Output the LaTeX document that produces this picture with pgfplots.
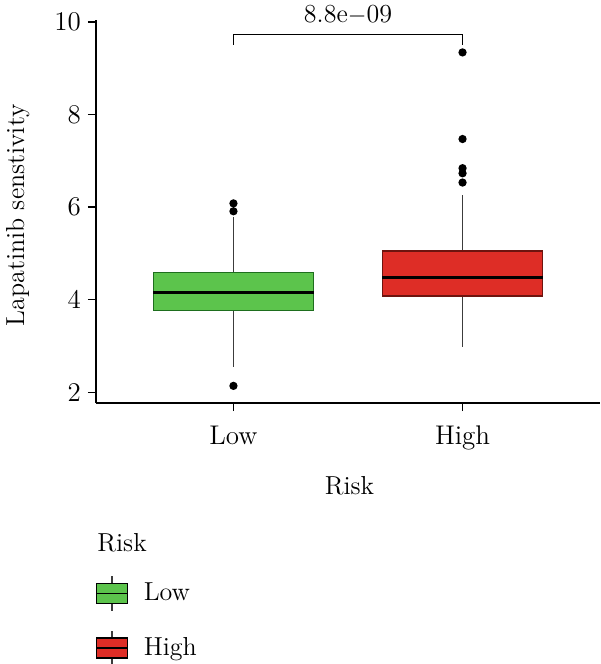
\documentclass[border=0pt]{standalone}
\usepackage{pgfplots}
\pgfplotsset{compat=1.18}
\usepgfplotslibrary{statistics}
\definecolor{lowfill}{RGB}{92,196,76}
\definecolor{lowdraw}{RGB}{30,110,30}
\definecolor{highfill}{RGB}{222,45,38}
\definecolor{highdraw}{RGB}{110,20,15}
\definecolor{whisk}{RGB}{60,60,60}
\begin{document}
\begin{tikzpicture}
\path[use as bounding box] (-48pt,-130.5pt) rectangle (252pt,201.5pt);
\begin{axis}[
  at={(0pt,0pt)}, anchor=south west, scale only axis,
  width=252pt, height=191.5pt,
  xmin=0.4, xmax=2.6, ymin=1.77, ymax=10.04,
  axis lines=left, axis line style={-, line width=0.9pt},
  tick align=outside, major tick length=4pt,
  tick style={black, line width=0.7pt},
  xtick={1,2}, xticklabels={Low,High},
  ytick={2,4,6,8,10},
  /pgf/number format/assume math mode=true,
  ticklabel style={font=\fontsize{13.5}{15}\selectfont},
  xticklabel style={yshift=-4pt},
  ylabel={Lapatinib senstivity},
  ylabel style={at={(axis description cs:-0.155,0.49)}, anchor=center, font=\fontsize{13}{15}\selectfont},
  xlabel={Risk},
  xlabel style={at={(axis description cs:0.503,-0.217)}, anchor=center, font=\fontsize{13}{15}\selectfont},
  clip=false,
  boxplot/draw direction=y,
  boxplot/every median/.style={line width=1.6pt, black},
  boxplot/every whisker/.style={draw=whisk, line width=0.9pt},
  legend style={at={(axis description cs:0.0,-0.449)}, anchor=north west, draw=none, fill=none,
    inner sep=0pt, outer sep=0pt, row sep=9pt, font=\fontsize{13}{15}\selectfont,
    nodes={inner sep=0pt}},
  legend cell align=left,
]
\addlegendimage{legend image code/.code={
  \path[draw=none, fill=none] (0pt,0pt) -- (23.5pt,0pt);
  \draw[whisk, line width=0.9pt] (7.75pt,-8.75pt) -- (7.75pt,8.75pt);
  \draw[fill=lowfill, draw=black, line width=0.7pt] (0pt,-5pt) rectangle (15.5pt,5pt);
  \draw[black, line width=0.8pt] (0pt,0pt) -- (15.5pt,0pt);}}
\addlegendentry{Low}
\addlegendimage{legend image code/.code={
  \path[draw=none, fill=none] (0pt,0pt) -- (23.5pt,0pt);
  \draw[whisk, line width=0.9pt] (7.75pt,-8.75pt) -- (7.75pt,8.75pt);
  \draw[fill=highfill, draw=black, line width=0.7pt] (0pt,-5pt) rectangle (15.5pt,5pt);
  \draw[black, line width=0.8pt] (0pt,0pt) -- (15.5pt,0pt);}}
\addlegendentry{High}

\addplot[forget plot, solid, fill=lowfill, draw=lowdraw, line width=0.6pt,
  mark=*, mark size=1.75pt, mark options={fill=black, draw=black},
  boxplot prepared={draw direction=y, draw position=1, lower whisker=2.55, lower quartile=3.76,
    median=4.16, upper quartile=4.59, upper whisker=5.79, box extend=0.7, whisker extend=0}]
  table[row sep=\\, y index=0] {data\\ 2.14\\ 5.91\\ 6.08\\};

\addplot[forget plot, solid, fill=highfill, draw=highdraw, line width=0.6pt,
  mark=*, mark size=1.75pt, mark options={fill=black, draw=black},
  boxplot prepared={draw direction=y, draw position=2, lower whisker=2.99, lower quartile=4.08,
    median=4.48, upper quartile=5.05, upper whisker=6.26, box extend=0.7, whisker extend=0}]
  table[row sep=\\, y index=0] {data\\ 6.53\\ 6.73\\ 6.84\\ 7.47\\ 9.34\\};

\addplot[forget plot, black, line width=0.7pt, mark=none] coordinates {(1,9.50) (1,9.725) (2,9.725) (2,9.50)};
\node[font=\fontsize{13}{15}\selectfont, anchor=center, inner sep=0pt] at (axis cs:1.5,10.15) {8.8e$-$09};
\node[font=\fontsize{13}{15}\selectfont, anchor=west, inner sep=0pt] at (axis description cs:0.002,-0.3655) {Risk};
\end{axis}
\end{tikzpicture}
\end{document}
